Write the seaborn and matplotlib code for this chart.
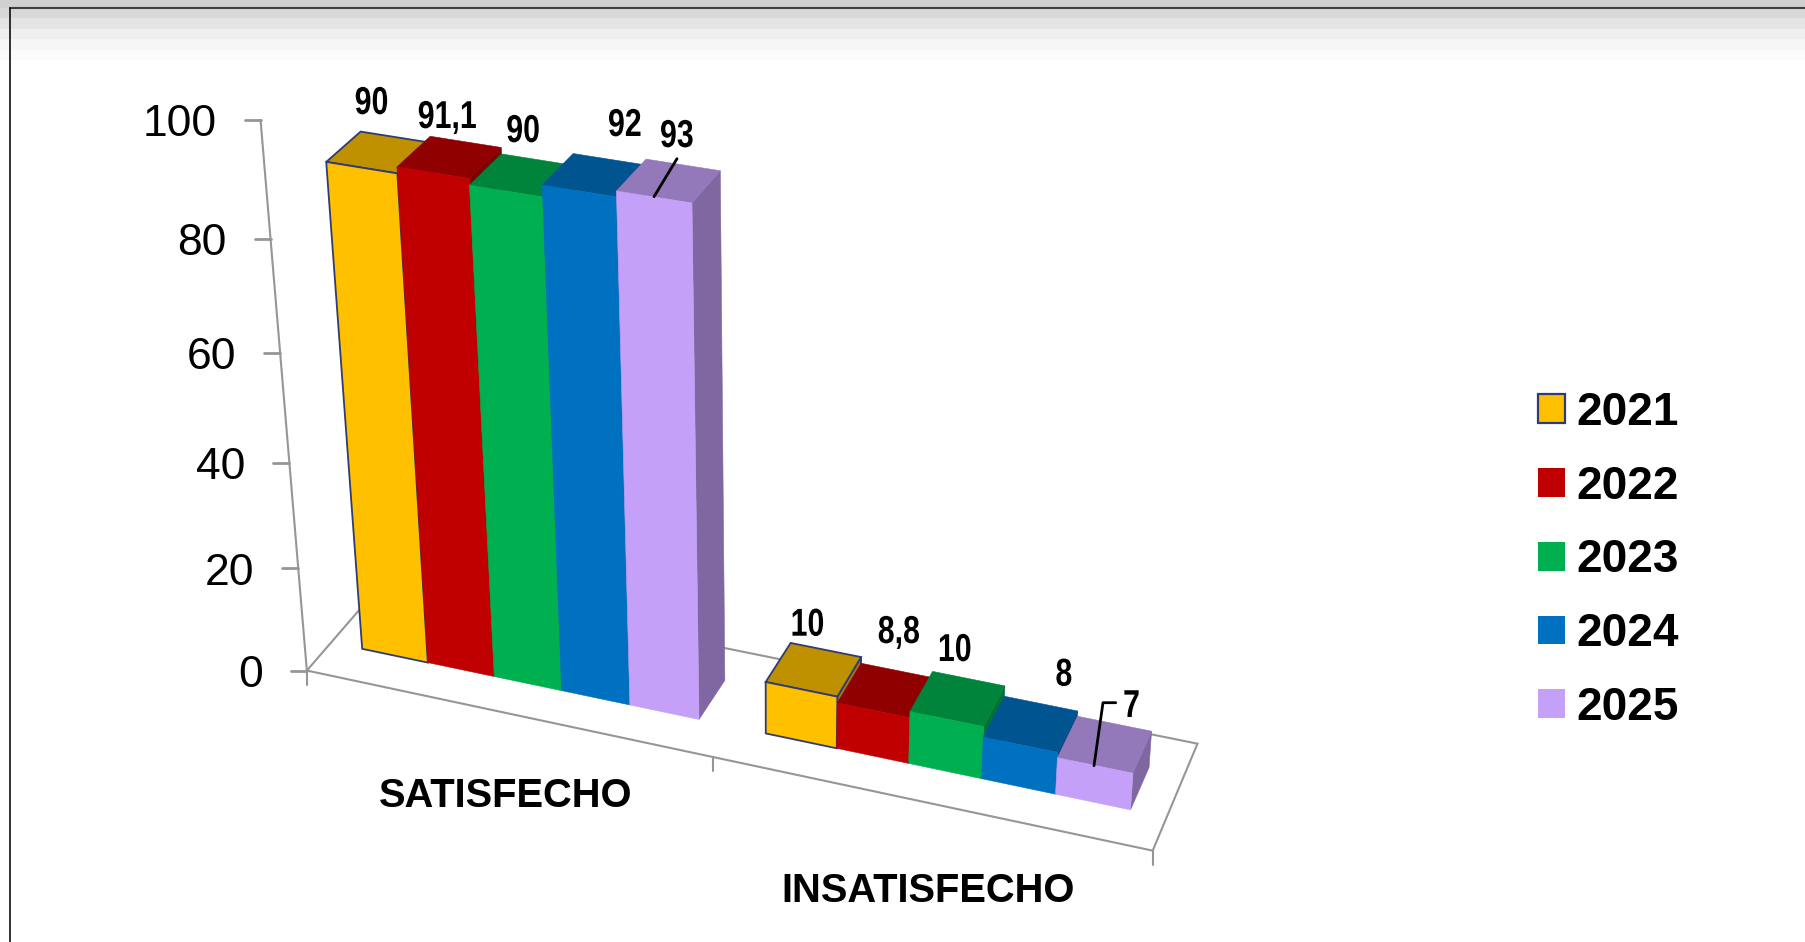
import numpy as np
import pandas as pd
import matplotlib
matplotlib.use('Agg')
import matplotlib.pyplot as plt
import matplotlib.transforms as mtrans
import matplotlib.patheffects as pe
from matplotlib.lines import Line2D
from matplotlib.patches import Polygon, Rectangle
import seaborn as sns

# datos
categorias = ['SATISFECHO', 'INSATISFECHO']
anios = ['2021', '2022', '2023', '2024', '2025']
satisfecho = [90, 91.1, 90, 92, 93]
insatisfecho = [10, 8.8, 10, 8, 7]
marcas_eje = [0, 20, 40, 60, 80, 100]

colores = ['#FFC000', '#C00000', '#00B050', '#0070C0', '#C4A0F8']
borde_2021 = '#2F3B73'
gris = '#969696'
W, H = 1805, 942
PROF_FRENTE, PROF_FONDO = 0.30, 0.70
F, B = PROF_FRENTE, PROF_FONDO

# puntos de calibracion de la perspectiva: (categoria, profundidad, valor) -> pixel
calib_3d = [(0, 0, 0), (1, 0, 0), (2, 0, 0), (2, 1, 0), (0, 1, 0),
            (0, 0, 100), (0, 0, 80), (0, 0, 60), (0, 0, 40), (0, 0, 20),
            (.08, F, 0), (.08, F, 90), (.92, F, 0), (.92, F, 93),
            (.92, B, 93), (.92, B, 0), (1.08, F, 0), (1.08, F, 10),
            (1.92, F, 0), (1.92, F, 7), (1.92, B, 7),
            (.08, B, 90), (.248, F, 91.1), (.416, F, 90), (.584, F, 92),
            (.752, F, 93), (1.08, B, 10), (1.248, F, 10), (1.248, F, 0)]
calib_px = [(307.5, 670), (712, 757), (1153.3, 850.7), (1198, 744), (384.5, 578.8),
            (260.7, 120), (269, 239), (279.7, 351), (289, 464), (298, 569),
            (363.2, 649), (326.5, 162.3), (697.5, 718.3), (691.7, 202.3),
            (720, 170), (722.9, 680), (766.7, 734), (766.7, 682.7),
            (1130, 809.3), (1131.7, 772.7), (1150.7, 732.3),
            (362, 132), (397.4, 167.7), (470, 185), (542, 185),
            (616, 190.7), (792.3, 643.3), (838.3, 696.7), (838.3, 748.3)]


def ajustar_camara(p3, p2):
    filas = []
    for (x, y, z), (u, v) in zip(p3, p2):
        z, u, v = z / 100, u / 1000, v / 1000
        filas.append([x, y, z, 1, 0, 0, 0, 0, -u * x, -u * y, -u * z, -u])
        filas.append([0, 0, 0, 0, x, y, z, 1, -v * x, -v * y, -v * z, -v])
    return np.linalg.svd(np.array(filas))[2][-1].reshape(3, 4)


camara = ajustar_camara(calib_3d, calib_px)


def a_pantalla(x, y, z):
    x, y, z = np.broadcast_arrays(x, y, z)
    q = camara @ np.array([x, y, z / 100, np.ones_like(x)], dtype=float)
    return np.column_stack([q[0] / q[2] * 1000, H - q[1] / q[2] * 1000])


class FrenteBarra(mtrans.Transform):
    input_dims = 2
    output_dims = 2

    def transform_non_affine(self, values):
        values = np.asarray(values)
        return a_pantalla(values[:, 0] + 0.5, PROF_FRENTE, values[:, 1])


class Estrecho(pe.AbstractPathEffect):
    # las etiquetas del original van en letra estrecha
    def __init__(self, factor):
        super().__init__()
        self.factor = factor

    def draw_path(self, renderer, gc, tpath, affine, rgbFace=None):
        cx = affine.transform(tpath.vertices)[:, 0]
        cx = (cx.min() + cx.max()) / 2
        nuevo = affine + mtrans.Affine2D().translate(-cx, 0).scale(self.factor, 1).translate(cx, 0)
        renderer.draw_path(gc, tpath, nuevo, rgbFace)


def oscurecer(color, f):
    return tuple(c * f for c in matplotlib.colors.to_rgb(color))


sns.set_theme(style='white')
fuente = 'Liberation Sans'
plt.rcParams['font.family'] = [fuente, 'DejaVu Sans']

df = pd.DataFrame({
    'categoria': [c for c in categorias for _ in anios],
    'anio': anios * 2,
    'valor': satisfecho + insatisfecho,
})

fig = plt.figure(figsize=(W / 100, H / 100), dpi=100, facecolor='white')
ax = fig.add_axes([0, 0, 1, 1])
sns.barplot(data=df, x='categoria', y='valor', hue='anio', hue_order=anios,
            palette=colores, width=0.84, saturation=1, linewidth=0, ax=ax)
ax.axis('off')
pix = mtrans.Affine2D().scale(1, -1).translate(0, H)
pantalla = mtrans.IdentityTransform()

# franja de arriba y marco
franjas = [(0, 8, '#D0D0D0'), (8, 18, '#D8D8D8'), (18, 29, '#E4E4E4'),
           (29, 39, '#EFEFEF'), (39, 50, '#F6F6F6'), (50, 60, '#FBFBFB')]
for y0, y1, c in franjas:
    fig.add_artist(Rectangle((0, y0), W, y1 - y0, transform=pix, color=c, lw=0, zorder=0))
fig.add_artist(Line2D([10, W], [8, 8], transform=pix, color='#404040', lw=1.5, zorder=1))
fig.add_artist(Line2D([10, 10], [8, H], transform=pix, color='#101010', lw=1.2, zorder=1))

# suelo y eje de valores
suelo = a_pantalla(np.array([0, 2, 2, 0]), np.array([0, 0, 1, 1]), 0)
ax.add_patch(Polygon(suelo, closed=True, transform=pantalla, fill=False,
                     edgecolor=gris, lw=1.5, zorder=2, clip_on=False))
eje = a_pantalla(0, 0, np.array([0, 100]))
ax.add_line(Line2D(eje[:, 0], eje[:, 1], transform=pantalla, color=gris, lw=1.5, zorder=2))
for v in marcas_eje:
    (px, py), = a_pantalla(0, 0, v)
    ax.add_line(Line2D([px - 16, px], [py, py], transform=pantalla, color=gris, lw=2, zorder=2))
    ax.text(px - 44, py - 5, str(v), transform=pantalla, ha='right', va='center',
            fontsize=32, color='black', clip_on=False)
for k in range(3):
    (px, py), = a_pantalla(k, 0, 0)
    ax.add_line(Line2D([px, px], [py, py - 14], transform=pantalla, color=gris, lw=1.5, zorder=2))

# leyenda (antes de tocar las barras)
h, l = ax.get_legend_handles_labels()
ley = ax.legend(h, l, loc='center left', bbox_to_anchor=(1538, 560.3), bbox_transform=pix,
                frameon=False, borderpad=0, borderaxespad=0, handlelength=0.59, handleheight=0.59,
                handletextpad=0.25, labelspacing=0.65, labelcolor='black',
                prop={'family': fuente, 'weight': 'bold', 'size': 33})
ley.legend_handles[0].set_edgecolor(borde_2021)
ley.legend_handles[0].set_linewidth(1.6)

# barras en perspectiva: frente de seaborn, techo y lado derecho aparte
proy = FrenteBarra()
for i, cont in enumerate(ax.containers):
    for c, b in enumerate(cont):
        x0 = b.get_x() + 0.5
        x1 = x0 + b.get_width()
        z = b.get_height()
        orden = 10 + c * 20 + i * 3
        techo = a_pantalla(np.array([x0, x1, x1, x0]),
                           np.array([PROF_FRENTE, PROF_FRENTE, PROF_FONDO, PROF_FONDO]), z)
        lado = a_pantalla(x1, np.array([PROF_FRENTE, PROF_FONDO, PROF_FONDO, PROF_FRENTE]),
                          np.array([0, 0, z, z]))
        for pts, f, zo in ((lado, 0.65, 0), (techo, 0.75, 1)):
            col = oscurecer(colores[i], f)
            estilo = dict(edgecolor=borde_2021, lw=1.3) if i == 0 else dict(edgecolor=col, lw=0.4)
            ax.add_patch(Polygon(pts, closed=True, transform=pantalla, facecolor=col,
                                 zorder=orden + zo, clip_on=False, **estilo))
        b.set_transform(proy)
        b.set_zorder(orden + 2)
        b.set_clip_on(False)
        b.set_edgecolor(borde_2021 if i == 0 else colores[i])
        b.set_linewidth(1.3 if i == 0 else 0.4)

# etiquetas de valor
pos_etiquetas = [(371.7, 104), (447.5, 118), (523.3, 132), (625, 126), (677, 137),
                 (807.7, 625.7), (899, 633), (955, 651), (1064, 675.7), (1131.7, 707)]
for v, (px, py) in zip(satisfecho + insatisfecho, pos_etiquetas):
    ax.text(px, py, f'{v:g}'.replace('.', ','), transform=pix, ha='center', va='center',
            weight='bold', fontsize=28, color='black', zorder=200,
            path_effects=[Estrecho(0.78)])

# lineas guia
guias = [[(677, 158.7), (654, 196.7)], [(1115.7, 702.7), (1103, 702.7), (1094, 765.7)]]
for g in guias:
    xs, ys = zip(*g)
    ax.add_line(Line2D(xs, ys, transform=pix, color='black', lw=2, zorder=200))

# nombres de categoria
pos_categorias = [(506, 796), (928, 891)]
for nombre, (px, py) in zip(categorias, pos_categorias):
    ax.text(px, py, nombre, transform=pix, ha='center', va='center', weight='bold',
            fontsize=28.7, color='black', zorder=200)

fig.savefig('out.png', dpi=100)
